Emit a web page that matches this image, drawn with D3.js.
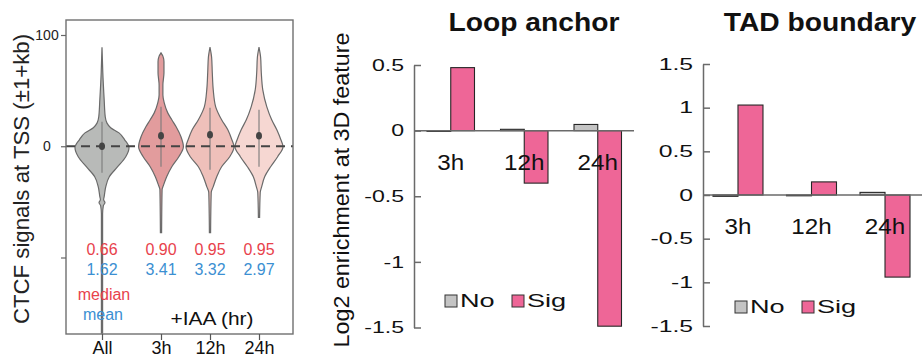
<!DOCTYPE html>
<html>
<head>
<meta charset="utf-8">
<script src="https://cdn.jsdelivr.net/npm/d3@7/dist/d3.min.js"></script>
<style>
  html, body { margin: 0; padding: 0; background: #fff; }
  svg { display: block; }
  text { font-family: "Liberation Sans", Arial, Helvetica, sans-serif; fill: #111; }
</style>
</head>
<body>
<svg id="fig" width="922" height="357"></svg>
<script>
// ---------- Violin panel data ----------
const violinCats = ["All", "3h", "12h", "24h"];
const medianVals = [0.66, 0.90, 0.95, 0.95];
const meanVals = [1.62, 3.41, 3.32, 2.97];

// density profiles: [signal value, relative density]
const profileAll = [[89, 0], [66, 0.03], [42, 0.08], [26.5, 0.12], [21, 0.18], [16.6, 0.32], [12, 0.63],
  [5.8, 0.84], [-1.3, 1.0], [-9.4, 0.88], [-18.4, 0.58], [-27.4, 0.27], [-36.3, 0.14], [-45.3, 0.08],
  [-48, 0.06], [-50.7, 0.11], [-53.4, 0.05], [-61, 0.022], [-168, 0.022]];
const profile3h = [[84, 0], [81, 0.07], [76, 0.11], [66, 0.11], [55, 0.07], [46, 0.07], [39, 0.12],
  [30, 0.25], [23.8, 0.4], [17.5, 0.56], [8.5, 0.74], [-0.4, 0.83], [-9.4, 0.66], [-18.4, 0.4],
  [-27.4, 0.21], [-34.5, 0.1], [-39, 0.04], [-77.6, 0.022]];
const profile12h = [[89, 0], [80, 0.06], [66, 0.085], [50.7, 0.12], [35.4, 0.21], [23.8, 0.43],
  [14.8, 0.66], [5.8, 0.81], [-0.4, 0.89], [-9.4, 0.73], [-18.4, 0.43], [-27.4, 0.25], [-36.3, 0.12],
  [-41.7, 0.045], [-77.6, 0.022]];
const profile24h = [[89, 0], [80, 0.06], [66, 0.085], [50.7, 0.14], [35.4, 0.29], [23.8, 0.47],
  [14.8, 0.66], [5.8, 0.81], [-0.4, 0.89], [-9.4, 0.69], [-18.4, 0.43], [-27.4, 0.21], [-36.3, 0.1],
  [-41.7, 0.045], [-64, 0.022]];
const violinProfiles = [profileAll, profile3h, profile12h, profile24h];

// inner range line and centre dot
const innerLo = [-23.8, -18.4, -21.1, -18.4];
const innerHi = [22, 35.4, 34.5, 32.7];
const innerDot = [0, 9.4, 10.3, 9.4];

const violinTicks = [100, 0, -100];
const violinTickLabels = ["100", "0", ""];

// ---------- Bar panel data ----------
const times = ["3h", "12h", "24h"];
const barKeys = ["No", "Sig"];
const loopNo = [-0.005, 0.01, 0.047];
const loopSig = [0.48, -0.40, -1.49];
const tadNo = [-0.015, 0.0, 0.03];
const tadSig = [1.03, 0.15, -0.94];
const loopTicks = [0.5, 0, -0.5, -1, -1.5];
const tadTicks = [1.5, 1, 0.5, 0, -0.5, -1, -1.5];

// ---------- styles ----------
const violinColors = ["#b8bab8", "#e29c9d", "#efc0ba", "#f6d7d2"];
const barColors = { No: "#c4c4c4", Sig: "#ee6697" };
const red = "#e8424c", blue = "#3b8fd2";

const svg = d3.select("#fig");

// text drawn with a horizontal scale factor
function stext(parent, x, y, str, o = {}) {
  const g = parent.append("g").attr("transform", `translate(${x},${y})` + (o.rotate ? ` rotate(${o.rotate})` : ""));
  const t = g.append("text")
    .attr("transform", `scale(${o.sx || 1},1)`)
    .attr("text-anchor", o.anchor || "start")
    .attr("font-size", o.size || 16)
    .attr("font-weight", o.weight || "normal")
    .text(str);
  if (o.fill) t.style("fill", o.fill);
  if (o.dy) t.attr("dy", o.dy);
  return t;
}

// ================= Panel 1: violins =================
const frame = { x0: 66, x1: 293, y0: 20, y1: 334 };
const yV = d3.scaleLinear().domain([-100, 100]).range([257.5, 35]);
const xV = d3.scaleOrdinal().domain(violinCats).range([102, 161, 210, 259]);
const wV = d3.scaleLinear().domain([0, 1]).range([0, 27]);

const p1 = svg.append("g");
p1.append("defs").append("clipPath").attr("id", "vclip")
  .append("rect").attr("x", frame.x0).attr("y", frame.y0)
  .attr("width", frame.x1 - frame.x0).attr("height", frame.y1 - frame.y0);

const vg = p1.append("g").attr("clip-path", "url(#vclip)");
violinCats.forEach((c, i) => {
  const cx = xV(c);
  const prof = violinProfiles[i].slice().sort((a, b) => b[0] - a[0]);
  const area = d3.area()
    .y(d => yV(d[0]))
    .x0(d => cx - wV(d[1]))
    .x1(d => cx + wV(d[1]))
    .curve(d3.curveMonotoneY);
  vg.append("path").attr("d", area(prof))
    .attr("fill", violinColors[i]).attr("stroke", "#6a6a6a").attr("stroke-width", 1.2);
  vg.append("line").attr("x1", cx).attr("x2", cx)
    .attr("y1", yV(innerHi[i])).attr("y2", yV(innerLo[i]))
    .attr("stroke", "#7a7a7a").attr("stroke-width", 1.1);
  vg.append("ellipse").attr("cx", cx).attr("cy", yV(innerDot[i]))
    .attr("rx", 3).attr("ry", 3.8).attr("fill", "#444");
});

// dashed reference line at zero
p1.append("line").attr("x1", frame.x0).attr("x2", frame.x1)
  .attr("y1", yV(0)).attr("y2", yV(0))
  .attr("stroke", "#444").attr("stroke-width", 2).attr("stroke-dasharray", "9,6");

// frame
p1.append("rect").attr("x", frame.x0).attr("y", frame.y0)
  .attr("width", frame.x1 - frame.x0).attr("height", frame.y1 - frame.y0)
  .attr("fill", "none").attr("stroke", "#707070").attr("stroke-width", 1.4);

// left axis
const axV = p1.append("g").attr("transform", `translate(${frame.x0},0)`)
  .call(d3.axisLeft(yV).tickValues(violinTicks).tickSize(5).tickSizeOuter(0)
    .tickFormat((d, i) => violinTickLabels[i]));
axV.select(".domain").remove();
axV.selectAll(".tick line").attr("stroke", "#666").attr("stroke-width", 1.2);
axV.selectAll(".tick text").attr("x", -19).attr("text-anchor", "middle")
  .attr("font-size", 14).attr("font-family", null).style("fill", "#222");

// bottom axis ticks and labels
const axB = p1.append("g").attr("transform", `translate(0,${frame.y1})`)
  .call(d3.axisBottom(xV).tickSize(6).tickSizeOuter(0));
axB.select(".domain").remove();
axB.selectAll(".tick line").attr("stroke", "#555").attr("stroke-width", 1.2);
axB.selectAll(".tick text").attr("y", 20).attr("dy", null)
  .attr("font-size", 18).attr("font-family", null).style("fill", "#111");

// median / mean annotations
violinCats.forEach((c, i) => {
  stext(p1, xV(c), 255, medianVals[i].toFixed(2), { anchor: "middle", size: 16, fill: red });
  stext(p1, xV(c), 275, meanVals[i].toFixed(2), { anchor: "middle", size: 16, fill: blue });
});
stext(p1, 104, 300, "median", { anchor: "middle", size: 16, fill: red });
stext(p1, 103, 320, "mean", { anchor: "middle", size: 16, fill: blue });
stext(p1, 212, 325, "+IAA (hr)", { anchor: "middle", size: 19, sx: 1.1 });

// y title
stext(p1, 29, 179, "CTCF signals at TSS (\u00b11+kb)", { anchor: "middle", size: 22, rotate: -90, sx: 1.01, fill: "#222" });

// ================= Bar panels =================
function barPanel(cfg) {
  const g = svg.append("g");
  const y = d3.scaleLinear().domain(cfg.domain).range(cfg.yRange);
  const x0 = d3.scaleBand().domain(times).range(cfg.xRange)
    .paddingInner(cfg.padIn).paddingOuter(cfg.padOut);
  const x1 = d3.scaleBand().domain(barKeys).range([0, x0.bandwidth()]);
  const axisX = cfg.xRange[0];

  // axis with inward ticks
  const ax = g.append("g").attr("transform", `translate(${axisX},0)`)
    .call(d3.axisLeft(y).tickValues(cfg.ticks).tickSizeInner(-7).tickSizeOuter(0)
      .tickPadding(10).tickFormat(d => String(d)));
  ax.select(".domain").attr("stroke", "#6a6a6a").attr("stroke-width", 1.5);
  ax.selectAll(".tick line").attr("stroke", "#6a6a6a").attr("stroke-width", 1.5);
  ax.selectAll(".tick text")
    .attr("font-size", 16.5).attr("font-family", null).style("fill", "#111")
    .attr("x", -cfg.labelGap / cfg.tickSx)
    .attr("transform", `scale(${cfg.tickSx},1)`);

  // bars
  times.forEach((t, i) => {
    const vals = { No: cfg.no[i], Sig: cfg.sig[i] };
    barKeys.forEach(k => {
      const v = vals[k];
      const top = y(Math.max(0, v)), bot = y(Math.min(0, v));
      g.append("rect")
        .attr("x", x0(t) + x1(k)).attr("width", x1.bandwidth())
        .attr("y", top).attr("height", Math.max(0.8, bot - top))
        .attr("fill", barColors[k]).attr("stroke", "#262626").attr("stroke-width", 1.1);
    });
  });

  // zero line
  g.append("line").attr("x1", axisX).attr("x2", cfg.zeroEnd)
    .attr("y1", y(0)).attr("y2", y(0))
    .attr("stroke", "#6a6a6a").attr("stroke-width", 1.5);

  // category labels
  times.forEach(t => {
    stext(g, x0(t) + x0.bandwidth() / 2, y(0) + 39, t, { anchor: "middle", size: 22, sx: 1.1 });
  });

  // title
  stext(g, cfg.titleX, 31, cfg.title, { anchor: "middle", size: 25, weight: "bold", sx: 1.13 });

  // legend
  const lg = g.append("g").attr("transform", `translate(${cfg.legX},${cfg.legY})`);
  barKeys.forEach((k, i) => {
    const ox = i * cfg.legStep;
    lg.append("rect").attr("x", ox).attr("y", -12).attr("width", 12).attr("height", 12)
      .attr("fill", barColors[k]).attr("stroke", "#333").attr("stroke-width", 1);
    stext(lg, ox + 15, 0, k, { size: 17.5, sx: 1.55 });
  });
  return g;
}

barPanel({
  domain: [-1.5, 0.5], yRange: [327.5, 65], xRange: [414, 634.5],
  padIn: 0.354, padOut: 0.177, ticks: loopTicks, no: loopNo, sig: loopSig,
  zeroEnd: 634, title: "Loop anchor", titleX: 534, labelGap: 10, tickSx: 1.4,
  legX: 445, legY: 307, legStep: 67
});

barPanel({
  domain: [-1.5, 1.5], yRange: [326, 64], xRange: [703, 920],
  padIn: 0.32, padOut: 0.136, ticks: tadTicks, no: tadNo, sig: tadSig,
  zeroEnd: 922, title: "TAD boundary", titleX: 820, labelGap: 10, tickSx: 1.5,
  legX: 735, legY: 313, legStep: 67
});

// y title shared by the bar panels
stext(svg, 349, 190, "Log2 enrichment at 3D feature", { anchor: "middle", size: 22, rotate: -90, sx: 1.06, fill: "#111" });
</script>
</body>
</html>
